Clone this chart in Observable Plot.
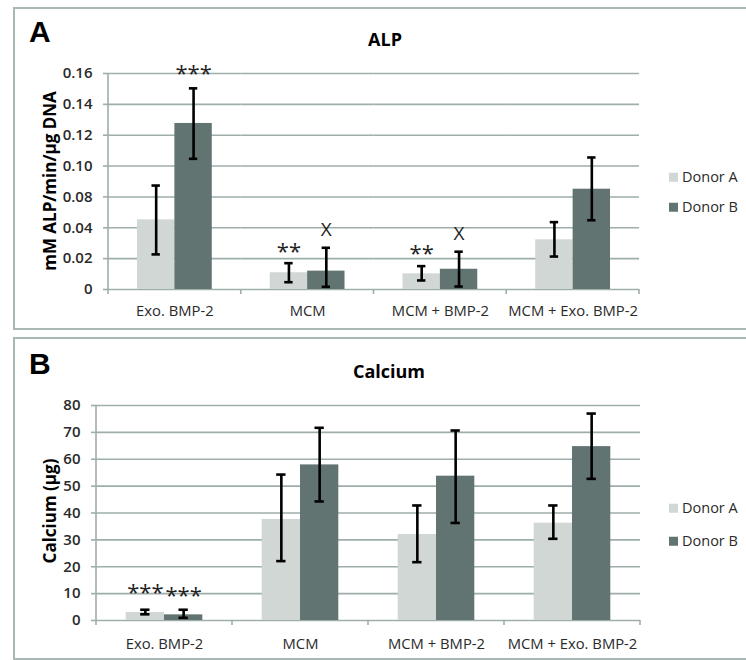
<!DOCTYPE html>
<html>
<head>
<meta charset="utf-8">
<script src="https://cdn.jsdelivr.net/npm/d3@7"></script>
<script src="https://cdn.jsdelivr.net/npm/@observablehq/plot@0.6"></script>
<style>
  body { margin: 0; background: #fff; font-family: "Open Sans", sans-serif; }
  #page { position: relative; width: 746px; height: 660px; overflow: hidden; background: #fff; }
  .panel { position: absolute; left: 13px; width: 760px; border: 2px solid #a9b8b4; box-sizing: border-box; }
  .chart { position: absolute; left: 0; }
  .chart svg { display: block; }
  .letter { position: absolute; font-family: "Liberation Sans", Arial, sans-serif; font-weight: bold; font-size: 30px; line-height: 1; color: #000; transform: translate(0, -50%); }
  .title { position: absolute; font-weight: bold; font-size: 18px; line-height: 1; color: #000; transform: translate(-50%, -50%); white-space: nowrap; }
  .ylab { position: absolute; font-weight: bold; font-size: 17px; line-height: 1; color: #000; white-space: nowrap; transform: translate(-50%, -50%) rotate(-90deg); }
  .legend { position: absolute; font-size: 14.5px; color: #2a2a2a; line-height: 1; }
  .legend .item { position: absolute; white-space: nowrap; transform: translate(0, -50%); display: flex; align-items: center; }
  .legend .sw { display: inline-block; width: 9px; height: 9px; margin-right: 4px; }
</style>
</head>
<body>
<div id="page">
  <div class="panel" style="top:7px;height:323px;"></div>
  <div class="panel" style="top:337px;height:323px;"></div>
  <div class="chart" id="chartA" style="top:0px;"></div>
  <div class="chart" id="chartB" style="top:330px;"></div>
  <div class="letter" style="left:29px;top:32px;">A</div>
  <div class="letter" style="left:29px;top:364px;">B</div>
  <div class="title" style="left:385px;top:39px;">ALP</div>
  <div class="title" style="left:389px;top:371px;">Calcium</div>
  <div class="ylab" style="left:49px;top:181px;">mM ALP/min/μg DNA</div>
  <div class="ylab" style="left:49px;top:511px;">Calcium (μg)</div>
  <div class="legend" id="legendA"></div>
  <div class="legend" id="legendB"></div>
</div>
<script>
// ---------- data ----------
const categories = ["Exo. BMP-2", "MCM", "MCM + BMP-2", "MCM + Exo. BMP-2"];
const donors = ["Donor A", "Donor B"];

// ALP (mM ALP/min/μg DNA)
const alpMeanA = [0.0516, 0.0124, 0.0116, 0.0368];
const alpLowA  = [0.0260, 0.0054, 0.0067, 0.0244];
const alpHighA = [0.0770, 0.0195, 0.0173, 0.0499];
const alpMeanB = [0.1230, 0.0136, 0.0150, 0.0743];
const alpLowB  = [0.0968, 0.0020, 0.0022, 0.0513];
const alpHighB = [0.1490, 0.0309, 0.0280, 0.0978];
const alpTickLabels = ["0", "0.02", "0.04", "0.08", "0.10", "0.12", "0.14", "0.16"];
const alpMax = 0.16;

// Calcium (μg)
const caMeanA = [3.0, 37.6, 32.0, 36.2];
const caLowA  = [2.3, 22.1, 21.7, 30.4];
const caHighA = [4.0, 54.3, 42.8, 42.8];
const caMeanB = [2.1, 57.9, 53.7, 64.7];
const caLowB  = [1.0, 44.3, 36.3, 52.7];
const caHighB = [4.0, 71.7, 70.7, 77.0];
const caTicks = [0, 10, 20, 30, 40, 50, 60, 70, 80];

// significance annotations
const alpAnnotCat   = ["Exo. BMP-2", "MCM", "MCM", "MCM + BMP-2", "MCM + BMP-2"];
const alpAnnotDonor = ["Donor B", "Donor A", "Donor B", "Donor A", "Donor B"];
const alpAnnotText  = ["***", "**", "X", "**", "X"];
const alpAnnotY     = [0.164, 0.0326, 0.0444, 0.0311, 0.0415];

const caAnnotCat   = ["Exo. BMP-2", "Exo. BMP-2"];
const caAnnotDonor = ["Donor A", "Donor B"];
const caAnnotText  = ["***", "***"];
const caAnnotY     = [12.3, 11.2];

// ---------- styles ----------
const colors = ["#d0d7d5", "#627472"];
const gridColor = "#9eaeab";
const font = "'Open Sans', sans-serif";

function rows(meanA, lowA, highA, meanB, lowB, highB) {
  const out = [];
  categories.forEach((c, i) => {
    out.push({cat: c, donor: donors[0], mean: meanA[i], lo: lowA[i], hi: highA[i]});
    out.push({cat: c, donor: donors[1], mean: meanB[i], lo: lowB[i], hi: highB[i]});
  });
  return out;
}
function annots(cats, ds, texts, ys) {
  return cats.map((c, i) => ({cat: c, donor: ds[i], text: texts[i], y: ys[i]}));
}

function makeChart({data, notes, yMax, ticks, tickFormat, margins, labelPad}) {
  const stars = notes.filter(d => d.text.includes("*"));
  const others = notes.filter(d => !d.text.includes("*"));
  const chart = Plot.plot({
    width: 746,
    height: 330,
    ...margins,
    style: {background: "transparent", fontFamily: font, overflow: "visible"},
    fx: {domain: categories, padding: 0, label: null, round: false},
    x: {domain: donors, paddingInner: 0, paddingOuter: 0.775, axis: null, round: false},
    y: {domain: [0, yMax], axis: null},
    color: {domain: donors, range: colors},
    marks: [
      Plot.gridY(ticks, {stroke: gridColor, strokeOpacity: 1, strokeWidth: 1.6}),
      Plot.axisY(ticks, {
        tickSize: 5, tickPadding: 11, tickFormat,
        stroke: gridColor, strokeWidth: 1.6, strokeOpacity: 1,
        fill: "#2a2a2a", fontSize: 15, fontWeight: 600, label: null
      }),
      Plot.axisFx({anchor: "bottom", tickSize: 0, tickPadding: labelPad, fontSize: 14.8, fill: "#2a2a2a", label: null}),
      Plot.barY(data, {fx: "cat", x: "donor", y: "mean", fill: "donor"}),
      Plot.ruleX(data, {fx: "cat", x: "donor", y1: "lo", y2: "hi", stroke: "#000", strokeWidth: 2.6}),
      Plot.tickY(data, {fx: "cat", x: "donor", y: "lo", stroke: "#000", strokeWidth: 2.6, insetLeft: 14.5, insetRight: 14.5}),
      Plot.tickY(data, {fx: "cat", x: "donor", y: "hi", stroke: "#000", strokeWidth: 2.6, insetLeft: 14.5, insetRight: 14.5}),
      Plot.text(stars, {fx: "cat", x: "donor", y: "y", text: "text", fontSize: 22, fill: "#222", dy: 6}),
      Plot.text(others, {fx: "cat", x: "donor", y: "y", text: "text", fontSize: 19, fill: "#222"})
    ]
  });
  // category boundary ticks and the vertical axis line, placed through the library's scales
  const fx = chart.scale("fx"), y = chart.scale("y");
  const y0 = y.apply(0), yTop = y.apply(yMax);
  const bw = fx.bandwidth;
  const xs = fx.domain.map(d => fx.apply(d));
  xs.push(xs[xs.length - 1] + bw);
  const svg = d3.select(chart);
  const g = svg.append("g").attr("stroke", gridColor).attr("stroke-width", 1.6);
  g.selectAll("line.b").data(xs).join("line").attr("class", "b")
    .attr("x1", d => d).attr("x2", d => d).attr("y1", y0).attr("y2", y0 + 5);
  g.append("line").attr("x1", xs[0]).attr("x2", xs[0]).attr("y1", yTop).attr("y2", y0);
  g.lower();
  return chart;
}

const alpTicks = d3.range(alpTickLabels.length).map(i => i * alpMax / (alpTickLabels.length - 1));
const chartA = makeChart({
  data: rows(alpMeanA, alpLowA, alpHighA, alpMeanB, alpLowB, alpHighB),
  notes: annots(alpAnnotCat, alpAnnotDonor, alpAnnotText, alpAnnotY),
  yMax: alpMax,
  ticks: alpTicks,
  tickFormat: d => alpTickLabels[Math.round(d / (alpMax / (alpTickLabels.length - 1)))],
  margins: {marginTop: 73, marginBottom: 41, marginLeft: 108, marginRight: 107},
  labelPad: 16
});
document.getElementById("chartA").appendChild(chartA);

const chartB = makeChart({
  data: rows(caMeanA, caLowA, caHighA, caMeanB, caLowB, caHighB),
  notes: annots(caAnnotCat, caAnnotDonor, caAnnotText, caAnnotY),
  yMax: 80,
  ticks: caTicks,
  tickFormat: d => String(d),
  margins: {marginTop: 75, marginBottom: 40, marginLeft: 96, marginRight: 106},
  labelPad: 18
});
document.getElementById("chartB").appendChild(chartB);

// legends
function legend(id, top1, top2) {
  const el = document.getElementById(id);
  [top1, top2].forEach((t, i) => {
    const item = document.createElement("div");
    item.className = "item";
    item.style.left = "669px";
    item.style.top = t + "px";
    item.innerHTML = `<span class="sw" style="background:${colors[i]}"></span><span>${donors[i]}</span>`;
    el.appendChild(item);
  });
}
legend("legendA", 177, 207);
legend("legendB", 508, 541);
</script>
</body>
</html>
